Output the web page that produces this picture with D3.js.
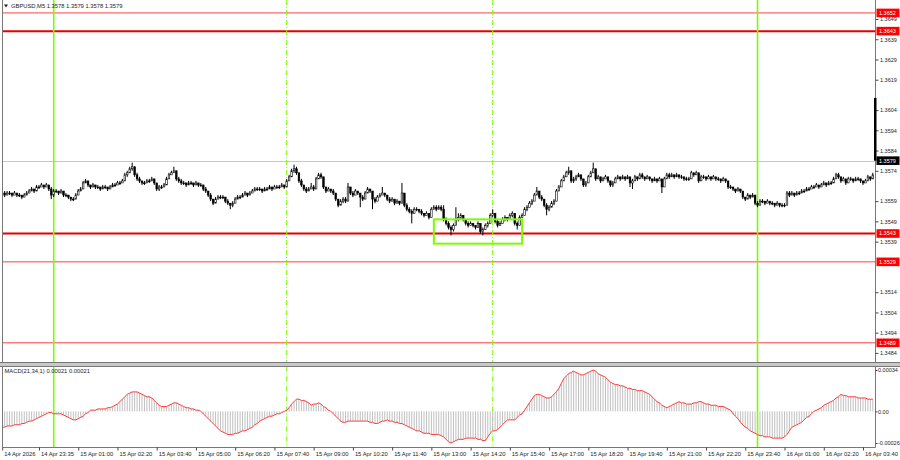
<!DOCTYPE html>
<html>
<head>
<meta charset="utf-8">
<script src="https://cdnjs.cloudflare.com/ajax/libs/d3/7.8.5/d3.min.js"></script>
<style>
  html, body { margin: 0; padding: 0; background: #fff; }
  svg { display: block; }
  text { font-family: "Liberation Sans", Arial, sans-serif; }
</style>
</head>
<body>
<div id="chart"></div>
<script>
// GBPUSD M5 bars, [open, high, low, close] in pips above 1.3500
const bars = [
  [62,64,62,63],[63,64,61,62],[62,64,62,63],[63,64,62,63],[63,63,61,62],[62,64,62,63],[63,63,61,62],[62,63,61,62],[62,62,60,61],[61,63,61,62],
  [62,64,62,63],[63,65,63,64],[64,66,64,65],[65,65,63,64],[64,67,64,66],[66,67,65,66],[66,68,66,67],[67,67,65,66],[66,68,66,67],[67,67,64,65],
  [65,66,60,62],[62,65,61,64],[64,65,63,64],[64,64,62,63],[63,65,63,64],[64,64,61,62],[62,63,61,62],[62,62,60,61],[61,61,59,60],[60,61,59,60],
  [60,63,60,62],[62,65,62,64],[64,66,64,65],[65,69,65,68],[68,70,68,69],[69,69,66,67],[67,67,65,66],[66,68,66,67],[67,67,65,66],[66,67,65,66],
  [66,66,64,65],[65,67,65,66],[66,67,65,66],[66,66,64,65],[65,67,65,66],[66,68,66,67],[67,68,66,67],[67,69,67,68],[68,69,67,68],[68,70,68,69],
  [69,73,69,72],[72,74,71,73],[73,76,73,75],[75,78,74,76],[76,76,71,72],[72,73,69,70],[70,71,68,69],[69,69,67,68],[68,69,67,68],[68,70,68,69],
  [69,70,68,69],[69,71,69,70],[70,70,67,68],[68,68,64,65],[65,67,64,66],[66,67,65,66],[66,68,66,67],[67,71,67,70],[70,73,70,72],[72,74,72,73],
  [73,76,73,74],[74,74,69,70],[70,71,68,69],[69,70,67,68],[68,69,67,68],[68,68,66,67],[67,69,67,68],[68,69,67,68],[68,68,66,67],[67,69,67,68],
  [68,68,66,67],[67,68,66,67],[67,67,64,65],[65,66,63,64],[64,64,61,62],[62,63,59,60],[60,60,57,58],[58,61,58,60],[60,62,60,61],[61,62,60,61],
  [61,62,60,61],[61,61,58,59],[59,60,57,58],[58,58,55,57],[57,59,56,58],[58,61,58,60],[60,62,60,61],[61,62,60,61],[61,63,61,62],[62,64,62,63],
  [63,63,61,62],[62,64,62,63],[63,65,63,64],[64,66,64,65],[65,66,64,65],[65,66,64,65],[65,65,63,64],[64,66,64,65],[65,66,64,65],[65,67,65,66],
  [66,66,64,65],[65,67,65,66],[66,67,65,66],[66,67,65,66],[66,68,66,67],[67,67,65,66],[66,70,66,69],[69,72,69,71],[71,75,71,74],[74,77,73,75],
  [75,76,72,73],[73,73,68,69],[69,70,66,67],[67,67,64,65],[65,66,63,64],[64,66,64,65],[65,68,65,66],[66,67,64,65],[65,71,65,70],[70,73,70,72],
  [72,73,70,71],[71,71,65,66],[66,66,63,64],[64,66,64,65],[65,65,63,64],[64,65,62,63],[63,63,59,60],[60,60,56,57],[57,60,57,59],[59,61,58,60],
  [60,61,58,59],[59,68,59,66],[66,66,62,63],[63,64,61,62],[62,65,62,64],[64,64,62,63],[63,63,56,61],[61,62,59,60],[60,64,60,63],[63,66,63,65],
  [65,65,63,64],[64,64,55,60],[60,61,58,59],[59,62,59,61],[61,63,61,62],[62,66,62,63],[63,63,61,62],[62,62,59,60],[60,61,58,59],[59,61,59,60],
  [60,60,57,58],[58,60,58,59],[59,59,57,58],[58,68,58,63],[63,63,56,57],[57,58,54,55],[55,56,53,54],[54,55,48,53],[53,56,53,55],[55,56,54,55],
  [55,55,53,54],[54,55,52,53],[53,53,51,52],[52,54,52,53],[53,53,50,51],[51,56,51,55],[55,57,55,56],[56,57,54,55],[55,57,55,56],[56,57,54,55],
  [55,57,49,50],[50,51,47,48],[48,49,45,46],[46,47,42,45],[45,48,44,47],[47,56,47,50],[50,53,49,51],[51,53,50,52],[52,52,49,50],[50,50,47,48],
  [48,49,46,47],[47,49,47,48],[48,48,46,47],[47,47,45,46],[46,49,46,48],[48,48,43,44],[44,46,42,45],[45,48,45,47],[47,49,46,48],[48,53,48,52],
  [52,55,51,53],[53,53,48,49],[49,50,46,47],[47,49,47,48],[48,51,48,50],[50,52,49,51],[51,51,49,50],[50,53,50,52],[52,54,51,53],[53,53,47,48],
  [48,49,45,47],[47,52,47,51],[51,53,51,52],[52,56,52,55],[55,57,54,56],[56,59,56,58],[58,60,57,59],[59,63,59,62],[62,66,62,64],[64,64,60,61],
  [61,62,59,60],[60,60,56,57],[57,58,52,55],[55,57,54,56],[56,59,56,58],[58,60,57,59],[59,65,59,64],[64,67,64,66],[66,70,66,69],[69,72,69,71],
  [71,74,71,73],[73,76,72,74],[74,74,68,69],[69,71,68,70],[70,72,69,71],[71,73,71,72],[72,72,69,70],[70,70,66,67],[67,69,66,68],[68,72,68,71],
  [71,74,71,73],[73,78,73,75],[75,75,69,70],[70,72,70,71],[71,71,68,69],[69,71,69,70],[70,72,70,71],[71,71,68,69],[69,69,66,67],[67,69,66,68],
  [68,71,68,70],[70,72,70,71],[71,71,69,70],[70,72,70,71],[71,71,69,70],[70,72,70,71],[71,71,66,68],[68,70,65,69],[69,72,69,71],[71,71,69,70],
  [70,73,70,72],[72,73,70,71],[71,71,69,70],[70,72,70,71],[71,71,69,70],[70,70,68,69],[69,71,69,70],[70,70,68,69],[69,71,69,70],[70,70,63,66],
  [66,71,66,70],[70,73,70,72],[72,73,70,71],[71,73,71,72],[72,72,70,71],[71,73,71,72],[72,72,70,71],[71,72,70,71],[71,71,69,70],[70,71,69,70],
  [70,71,69,70],[70,74,70,73],[73,73,71,72],[72,74,72,73],[73,73,68,69],[69,72,69,71],[71,72,70,71],[71,71,69,70],[70,72,70,71],[71,71,69,70],
  [70,72,70,71],[71,71,69,70],[70,71,69,70],[70,70,68,69],[69,71,69,70],[70,70,68,69],[69,69,65,66],[66,67,65,66],[66,66,64,65],[65,65,63,64],
  [64,66,64,65],[65,65,63,64],[64,64,60,61],[61,61,59,60],[60,63,60,62],[62,62,60,61],[61,63,61,62],[62,62,57,58],[58,59,56,57],[57,60,57,59],
  [59,60,58,59],[59,59,57,58],[58,60,58,59],[59,59,57,58],[58,59,57,58],[58,58,56,57],[57,59,57,58],[58,58,56,57],[57,58,56,57],[57,58,56,57],
  [57,64,57,63],[63,64,61,62],[62,64,62,63],[63,63,61,62],[62,64,62,63],[63,64,62,63],[63,65,63,64],[64,65,63,64],[64,66,64,65],[65,66,64,65],
  [65,67,65,66],[66,67,65,66],[66,68,66,67],[67,67,65,66],[66,68,66,67],[67,69,67,68],[68,68,66,67],[67,69,67,68],[68,69,67,68],[68,71,68,70],
  [70,73,70,72],[72,73,70,71],[71,71,68,69],[69,71,69,70],[70,70,67,68],[68,71,68,70],[70,71,69,70],[70,70,68,69],[69,71,69,70],[70,71,69,70],
  [70,70,68,69],[69,69,67,68],[68,70,68,69],[69,72,69,71],[71,71,69,70],[70,73,70,72]
];

// MACD(21,34,1) main value per bar, in units of 0.00001
const macdVals = [
  -13,-13,-12,-12,-12,-11,-11,-11,-10,-10,-9,-8,-8,-7,-6,-5,-4,-3,-2,-1,
  -1,-2,-2,-2,-2,-3,-4,-5,-6,-7,-7,-6,-5,-4,-2,-1,1,1,1,2,
  2,2,2,3,3,4,5,6,8,10,12,14,15,16,16,16,15,14,13,12,
  12,11,9,7,5,4,4,4,5,6,7,7,6,5,4,3,3,2,2,1,
  1,0,-2,-4,-6,-8,-10,-12,-14,-16,-17,-18,-19,-19,-19,-18,-18,-17,-16,-16,
  -15,-14,-13,-11,-10,-8,-7,-6,-5,-4,-4,-3,-2,-2,-1,0,1,3,6,8,
  10,10,9,9,8,7,5,6,6,7,6,4,3,1,0,-2,-4,-6,-8,-9,
  -9,-8,-8,-8,-8,-8,-8,-8,-8,-8,-9,-9,-10,-10,-9,-8,-8,-7,-8,-8,
  -9,-9,-10,-10,-11,-12,-13,-14,-15,-16,-16,-17,-18,-18,-18,-19,-19,-19,-19,-20,
  -21,-23,-25,-26,-25,-24,-23,-23,-23,-22,-22,-22,-22,-22,-23,-23,-24,-24,-21,-18,
  -16,-16,-15,-13,-11,-9,-7,-7,-7,-7,-5,-3,-2,1,4,7,10,13,14,14,
  13,12,11,11,12,14,16,19,23,27,29,31,32,33,32,31,30,30,31,32,
  33,34,33,31,30,29,28,26,24,23,22,22,21,21,20,19,19,18,18,17,
  17,17,16,15,14,12,10,8,7,5,4,3,4,5,6,7,8,7,7,6,
  6,6,7,7,8,8,7,6,6,5,5,5,4,4,4,3,2,1,-2,-4,
  -6,-9,-11,-13,-14,-16,-17,-18,-19,-20,-20,-21,-21,-21,-22,-22,-22,-22,-22,-21,
  -19,-16,-13,-12,-11,-10,-9,-7,-5,-4,-2,0,1,2,3,5,6,7,8,9,
  11,12,14,13,13,12,12,12,12,11,11,11,11,10,10,10
];

const priceTicks = [1.3649, 1.3639, 1.3629, 1.3619, 1.3604, 1.3594, 1.3584, 1.3574,
                    1.3559, 1.3549, 1.3539, 1.3514, 1.3504, 1.3494, 1.3484];
const levelPrices = [1.3652, 1.3643, 1.3543, 1.3529, 1.3489];
const levelBold = [false, true, true, false, false];
const bidPrice = 1.3579;
const markerRange = [1.3610, 1.3579];

const timeIdx = [0, 15, 31, 47, 63, 79, 95, 111, 127, 143, 159, 175, 191, 207, 223, 239, 255, 271, 287, 303, 319, 335, 351];
const timeLabels = ["14 Apr 2026", "14 Apr 23:35", "15 Apr 01:00", "15 Apr 02:20", "15 Apr 03:40", "15 Apr 05:00",
  "15 Apr 06:20", "15 Apr 07:40", "15 Apr 09:00", "15 Apr 10:20", "15 Apr 11:40", "15 Apr 13:00", "15 Apr 14:20",
  "15 Apr 15:40", "15 Apr 17:00", "15 Apr 18:20", "15 Apr 19:40", "15 Apr 21:00", "15 Apr 22:20", "15 Apr 23:40",
  "16 Apr 01:00", "16 Apr 02:20", "16 Apr 03:40"];

const sessionIdx = [21, 116, 200, 308];
const sessionDashed = [false, true, true, false];
const zoneIdx = [176, 212];
const zonePrices = [1.3550, 1.3538];

const macdTicks = [34, 0, -26];

const PIP = 0.0001, BASE = 1.35;
const px = (v) => BASE + v * PIP;

let width = 900, height = 460;
let plotLeft = 2.5, plotRight = 875.5;
let mainBottom = 362.5, macdTop = 366.5, macdBottom = 447.5;
let fontSize = 5.8, axisFont = 5.5;
let green = "#7cfc00";

let x = d3.scaleLinear().domain([0, bars.length - 1]).range([2.2, 2.2 + (bars.length - 1) * 2.4524]);
let y = d3.scaleLinear().domain([1.3489, 1.3649]).range([342.8, 19.0]);
let yM = d3.scaleLinear().domain([-26, 34]).range([443, 370]);

let svg = d3.select("#chart").append("svg")
  .attr("width", width).attr("height", height)
  .style("background", "#fff");

let defs = svg.append("defs");
defs.append("clipPath").attr("id", "clipMain").append("rect")
  .attr("x", plotLeft).attr("y", 0).attr("width", plotRight - plotLeft).attr("height", mainBottom);
defs.append("clipPath").attr("id", "clipMacd").append("rect")
  .attr("x", plotLeft).attr("y", macdTop).attr("width", plotRight - plotLeft).attr("height", macdBottom - macdTop);

let main = svg.append("g").attr("clip-path", "url(#clipMain)");
let macdG = svg.append("g").attr("clip-path", "url(#clipMacd)");

// bid line
main.append("line")
  .attr("x1", plotLeft).attr("x2", plotRight)
  .attr("y1", Math.round(y(bidPrice)) + 0.5).attr("y2", Math.round(y(bidPrice)) + 0.5)
  .attr("stroke", "#c8c8c8").attr("stroke-width", 1);

// horizontal levels
main.selectAll("line.level")
  .data(levelPrices)
  .enter().append("line")
  .attr("class", "level")
  .attr("x1", plotLeft).attr("x2", plotRight)
  .attr("y1", (d) => y(d)).attr("y2", (d) => y(d))
  .attr("stroke", (d, i) => levelBold[i] ? "#e60000" : "#ff4040")
  .attr("stroke-width", (d, i) => levelBold[i] ? 2 : 1);

// session lines, both panels
[main, macdG].forEach(function (g, k) {
  g.selectAll("line.session")
    .data(sessionIdx)
    .enter().append("line")
    .attr("class", "session")
    .attr("x1", (d) => x(d)).attr("x2", (d) => x(d))
    .attr("y1", k === 0 ? 0 : macdTop).attr("y2", k === 0 ? mainBottom : macdBottom)
    .attr("stroke", green)
    .attr("stroke-width", (d, i) => sessionDashed[i] ? 1 : 1.6)
    .attr("stroke-dasharray", (d, i) => sessionDashed[i] ? "5,2,1,2" : null);
});

// candles
let candle = main.selectAll("g.bar")
  .data(bars)
  .enter().append("g")
  .attr("class", "bar")
  .attr("transform", (d, i) => "translate(" + x(i) + ",0)");

candle.append("line")
  .attr("y1", (d) => y(px(d[1])))
  .attr("y2", (d) => y(px(d[2])))
  .attr("stroke", "#000").attr("stroke-width", 1);

candle.append("rect")
  .attr("x", -0.8).attr("width", 1.6)
  .attr("y", (d) => y(px(Math.max(d[0], d[3]))))
  .attr("height", (d) => Math.max(0.8, Math.abs(y(px(d[0])) - y(px(d[3])))))
  .attr("fill", (d) => d[3] > d[0] ? "#fff" : "#000")
  .attr("stroke", "#000").attr("stroke-width", 0.6);

// zone rectangle
main.append("rect")
  .attr("x", x(zoneIdx[0])).attr("width", x(zoneIdx[1]) - x(zoneIdx[0]))
  .attr("y", y(zonePrices[0])).attr("height", y(zonePrices[1]) - y(zonePrices[0]))
  .attr("fill", "none").attr("stroke", green).attr("stroke-width", 2);

// MACD histogram + line
macdG.selectAll("line.hist")
  .data(macdVals)
  .enter().append("line")
  .attr("class", "hist")
  .attr("x1", (d, i) => x(i)).attr("x2", (d, i) => x(i))
  .attr("y1", yM(0)).attr("y2", (d) => yM(d))
  .attr("stroke", "#c0c0c0").attr("stroke-width", 1);

macdG.append("path")
  .datum(macdVals)
  .attr("fill", "none")
  .attr("stroke", "#ff3a3a").attr("stroke-width", 1)
  .attr("d", d3.line().x((d, i) => x(i)).y((d) => yM(d)));

// frames
let frame = svg.append("g").attr("stroke", "#787878").attr("stroke-width", 1);
svg.insert("rect", ":first-child")
  .attr("x", 0).attr("y", mainBottom + 0.5).attr("width", width).attr("height", macdTop - mainBottom - 1)
  .attr("fill", "#c8c8c8");
frame.append("line").attr("x1", plotLeft).attr("x2", plotLeft).attr("y1", 0).attr("y2", mainBottom);
frame.append("line").attr("x1", plotRight).attr("x2", plotRight).attr("y1", 0).attr("y2", mainBottom);
frame.append("line").attr("x1", plotLeft).attr("x2", plotLeft).attr("y1", macdTop).attr("y2", macdBottom);
frame.append("line").attr("x1", plotRight).attr("x2", plotRight).attr("y1", macdTop).attr("y2", macdBottom);
frame.append("line").attr("x1", 0).attr("x2", width).attr("y1", mainBottom).attr("y2", mainBottom);
frame.append("line").attr("x1", 0).attr("x2", width).attr("y1", macdTop).attr("y2", macdTop);

// price axis
let yAxis = svg.append("g")
  .attr("transform", "translate(" + plotRight + ",0)")
  .call(d3.axisRight(y).tickValues(priceTicks).tickFormat(d3.format(".4f")).tickSize(3).tickPadding(1.5).tickSizeOuter(0));
yAxis.select(".domain").remove();

let mAxis = svg.append("g")
  .attr("transform", "translate(" + plotRight + ",0)")
  .call(d3.axisRight(yM).tickValues(macdTicks)
    .tickFormat((d) => d === 0 ? "0.00" : (d / 1e5).toFixed(5))
    .tickSize(2).tickPadding(0.5).tickSizeOuter(0));
mAxis.select(".domain").remove();

// time axis
let xAxis = svg.append("g")
  .attr("transform", "translate(0," + macdBottom + ")")
  .call(d3.axisBottom(x).tickValues(timeIdx).tickFormat((d, i) => timeLabels[i]).tickSize(3).tickPadding(1).tickSizeOuter(0));
xAxis.select(".domain").attr("d", "M" + plotLeft + ",0H" + plotRight).attr("stroke", "#787878");
xAxis.selectAll(".tick text").attr("text-anchor", "start").attr("x", 1.5);

[yAxis, mAxis].forEach(function (g) {
  g.selectAll("text").attr("font-size", axisFont);
});
xAxis.selectAll("text").attr("font-size", fontSize);
[yAxis, mAxis, xAxis].forEach(function (g) {
  g.selectAll("text").attr("fill", "#222")
    .style("font-family", "'Liberation Sans', Arial, sans-serif");
  g.selectAll(".tick line").attr("stroke", "#444");
});

// scroll marker on the price scale
svg.append("rect")
  .attr("x", plotRight - 1.5).attr("width", 2.5)
  .attr("y", y(markerRange[0])).attr("height", y(markerRange[1]) - y(markerRange[0]))
  .attr("fill", "#000");

// price labels for levels and bid
let tags = levelPrices.map((p) => ({ p: p, bg: "#ff0000" })).concat([{ p: bidPrice, bg: "#000" }]);
let tag = svg.selectAll("g.tag")
  .data(tags)
  .enter().append("g")
  .attr("class", "tag")
  .attr("transform", (d) => "translate(" + (plotRight + 1) + "," + y(d.p) + ")");
tag.append("rect")
  .attr("x", 0).attr("y", -4.3).attr("width", 23).attr("height", 8.6)
  .attr("fill", (d) => d.bg);
tag.append("text")
  .attr("x", 2.5).attr("y", 0).attr("dy", "0.35em")
  .attr("font-size", axisFont).attr("fill", "#fff")
  .text((d) => d3.format(".4f")(d.p));

// headers
svg.append("path").attr("d", "M4,4.5L8,4.5L6,7.5Z").attr("fill", "#222");
svg.append("text")
  .attr("x", 11).attr("y", 8.3)
  .attr("font-size", fontSize).attr("fill", "#222")
  .text("GBPUSD,M5  1.3578 1.3579 1.3578 1.3579");
svg.append("text")
  .attr("x", 4.5).attr("y", macdTop + 6.5)
  .attr("font-size", fontSize).attr("fill", "#222")
  .text("MACD(21,34,1) 0.00021 0.00021");
</script>
</body>
</html>
